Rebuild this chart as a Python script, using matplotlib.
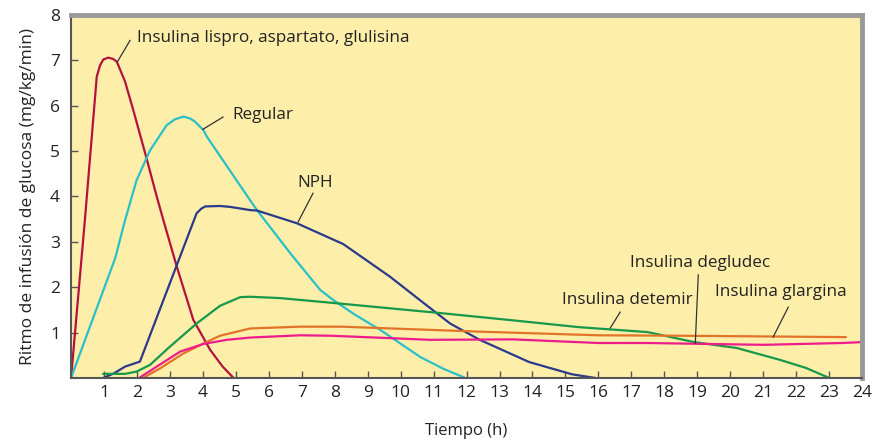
import matplotlib.pyplot as plt

plt.rcParams['font.family'] = ['Open Sans', 'DejaVu Sans']

# datos (tiempo h, ritmo mg/kg/min)
lispro_x = [0, 0.42, 0.78, 0.88, 0.98, 1.13, 1.28, 1.39, 1.64, 1.89, 2.25, 2.6, 2.8, 3.21, 3.71, 4.22, 4.6, 4.93]
lispro_y = [0, 3.48, 6.64, 6.89, 7.02, 7.06, 7.03, 6.97, 6.53, 5.9, 4.95, 4.0, 3.48, 2.45, 1.28, 0.62, 0.25, 0]

regular_x = [0, 0.68, 1.34, 1.64, 1.99, 2.4, 2.9, 3.15, 3.41, 3.61, 3.76, 4.02, 4.12, 5.43, 5.64, 6.65, 7.56, 7.95, 8.6, 9.38, 10.6, 11.3, 11.96]
regular_y = [0, 1.34, 2.64, 3.48, 4.36, 5.02, 5.57, 5.7, 5.76, 5.72, 5.65, 5.46, 5.32, 3.92, 3.7, 2.75, 1.94, 1.72, 1.4, 1.06, 0.46, 0.2, 0]

nph_x = [0.98, 1.3, 1.64, 2.09, 3.81, 3.95, 4.07, 4.52, 4.83, 5.43, 5.64, 6.85, 8.26, 9.68, 10.7, 11.5, 12.4, 13.9, 15.2, 15.9]
nph_y = [0, 0.1, 0.25, 0.36, 3.63, 3.73, 3.78, 3.79, 3.77, 3.7, 3.69, 3.41, 2.95, 2.23, 1.65, 1.2, 0.84, 0.35, 0.08, 0]

detemir_x = [0.98, 1.64, 1.99, 2.4, 3.0, 3.81, 4.52, 5.13, 5.43, 6.34, 8.0, 11.2, 13.4, 15.4, 17.5, 18.9, 20.2, 21.5, 22.3, 23.0]
detemir_y = [0.09, 0.09, 0.14, 0.29, 0.69, 1.2, 1.59, 1.78, 1.79, 1.76, 1.65, 1.43, 1.27, 1.12, 1.01, 0.79, 0.66, 0.4, 0.22, 0]

glargina_x = [2.19, 2.7, 3.41, 4.02, 4.52, 5.43, 6.95, 8.2, 12.4, 16.0, 18.5, 23.5]
glargina_y = [0, 0.21, 0.54, 0.76, 0.93, 1.09, 1.13, 1.13, 1.02, 0.94, 0.93, 0.9]

degludec_x = [2.09, 2.6, 3.31, 4.02, 4.73, 5.43, 6.95, 7.9, 10.9, 13.4, 16.0, 17.5, 21.0, 23.4, 24.0]
degludec_y = [0.01, 0.25, 0.58, 0.75, 0.84, 0.89, 0.94, 0.93, 0.84, 0.85, 0.77, 0.77, 0.73, 0.77, 0.79]

x_ticks = list(range(1, 25))
y_ticks = list(range(1, 9))

fig = plt.figure(figsize=(8.77, 4.41), dpi=100)
ax = fig.add_axes([0.081, 0.143, 0.902, 0.823])
ax.set_facecolor('#fdeeaa')

ax.plot(lispro_x, lispro_y, color='#b3123f', lw=1.6)
ax.plot(regular_x, regular_y, color='#2cbfc8', lw=1.6)
ax.plot(nph_x, nph_y, color='#2b3a8a', lw=1.6)
ax.plot(detemir_x, detemir_y, color='#17984a', lw=1.6)
ax.plot(glargina_x, glargina_y, color='#e2742a', lw=1.6)
ax.plot(degludec_x, degludec_y, color='#ec1c8c', lw=1.6)

ax.set_xlim(0, 24)
ax.set_ylim(0, 8)
ax.set_xticks(x_ticks)
ax.set_yticks(y_ticks)
ax.tick_params(direction='in', length=5, width=1, color='#555555', labelsize=12.5, colors='#222222')
ax.tick_params(axis='x', pad=5)
ax.tick_params(axis='y', pad=8)

for s in ['left', 'bottom']:
    ax.spines[s].set_color('#555555')
    ax.spines[s].set_linewidth(1.5)
for s in ['top', 'right']:
    ax.spines[s].set_color('#999999')
    ax.spines[s].set_linewidth(3.5)

ax.set_xlabel('Tiempo (h)', fontsize=12, color='#222222', labelpad=16)
ax.set_ylabel('Ritmo de infusión de glucosa (mg/kg/min)', fontsize=12.5, color='#222222', labelpad=10)

# etiquetas con lineas guia
etiquetas = [
    ('Insulina lispro, aspartato, glulisina', (1.4, 6.96), (1.79, 7.44), (2.0, 7.5), 'left'),
    ('Regular', (4.0, 5.48), (4.61, 5.75), (4.89, 5.79), 'left'),
    ('NPH', (6.89, 3.44), (7.34, 4.07), (7.4, 4.3), 'center'),
    ('Insulina degludec', (18.94, 0.77), (19.03, 2.27), (16.97, 2.53), 'left'),
    ('Insulina detemir', (16.36, 1.1), (16.66, 1.45), (14.9, 1.72), 'left'),
    ('Insulina glargina', (21.3, 0.9), (21.76, 1.56), (19.54, 1.89), 'left'),
]
for txt, p0, p1, pt, ha in etiquetas:
    ax.plot([p0[0], p1[0]], [p0[1], p1[1]], color='#333333', lw=0.9)
    ax.text(pt[0], pt[1], txt, fontsize=12.3, color='#222222', ha=ha, va='center')

fig.savefig('out.png', dpi=100)
